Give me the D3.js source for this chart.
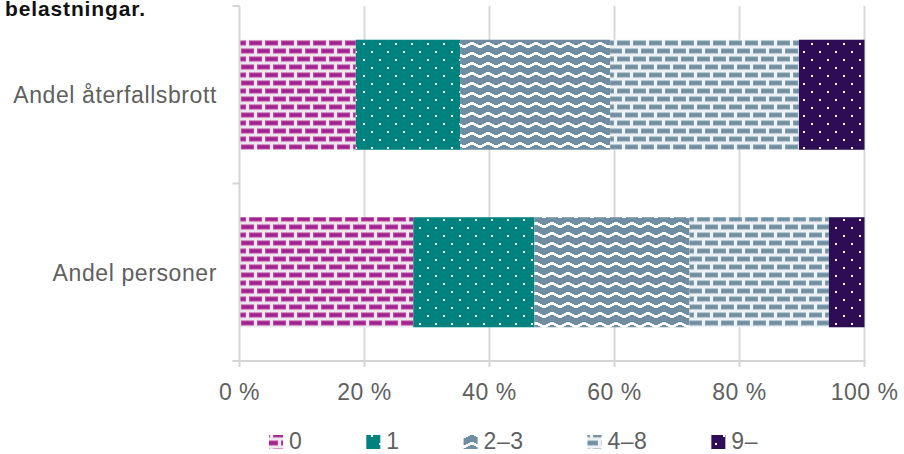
<!DOCTYPE html>
<html><head><meta charset="utf-8">
<script src="https://cdn.jsdelivr.net/npm/d3@7"></script>
<style>
body{margin:0;background:#fff}
svg{display:block}
text{font-family:"Liberation Sans", Arial, Helvetica, sans-serif}
</style>
</head><body>
<svg id="c" width="904" height="454"></svg>
<script>
// ---- data ----
const title = "belastningar.";
const categories = ["Andel återfallsbrott", "Andel personer"];
const seriesNames = ["0", "1", "2–3", "4–8", "9–"];
const s0 = [18.6, 27.8];
const s1 = [16.7, 19.4];
const s2 = [24.0, 24.8];
const s3 = [30.2, 22.3];
const s4 = [10.5, 5.7];
const xTicks = [0, 20, 40, 60, 80, 100];
const tickSuffix = " %";

const seriesValues = [s0, s1, s2, s3, s4];
const rows = categories.map((c, i) => {
  const r = {cat: c};
  seriesNames.forEach((s, j) => r[s] = seriesValues[j][i]);
  return r;
});
const stacked = d3.stack().keys(seriesNames)(rows);

const svg = d3.select("#c");
const x = d3.scaleLinear().domain([0, 100]).range([239.5, 864.5]);
const y = d3.scaleBand().domain(categories).range([6, 361]).paddingInner(0.38).paddingOuter(0.19);

// ---- patterns ----
const defs = svg.append("defs");
function brick(id, bg, fg, edge) {
  const p = defs.append("pattern").attr("id", id).attr("patternUnits", "userSpaceOnUse")
    .attr("width", 16).attr("height", 16).attr("x", 0).attr("y", 0);
  p.append("rect").attr("width", 16).attr("height", 16).attr("fill", bg);
  [[1, 0.5], [9, 8.5], [-7, 8.5]].forEach(([bx, by]) => {
    p.append("rect").attr("x", bx + 0.5).attr("y", by + 0.5).attr("width", 12).attr("height", 4)
      .attr("fill", fg).attr("stroke", edge).attr("stroke-width", 1);
  });
}
function dots(id, bg) {
  const p = defs.append("pattern").attr("id", id).attr("patternUnits", "userSpaceOnUse")
    .attr("width", 16).attr("height", 16).attr("x", 0).attr("y", 0);
  p.append("rect").attr("width", 16).attr("height", 16).attr("fill", bg);
  [[3, 3], [11, 11]].forEach(([dx, dy]) => {
    p.append("rect").attr("x", dx).attr("y", dy).attr("width", 2).attr("height", 2).attr("fill", "#ffffff");
  });
}
function zigzag(id, bg) {
  const p = defs.append("pattern").attr("id", id).attr("patternUnits", "userSpaceOnUse")
    .attr("width", 16).attr("height", 10).attr("x", 0).attr("y", 0);
  p.append("rect").attr("width", 16).attr("height", 10).attr("fill", bg);
  p.append("path").attr("d", "M-4,9 L0,7 L8,3 L16,7 L20,9")
    .attr("fill", "none").attr("stroke", "#ffffff").attr("stroke-width", 2.4)
    .attr("shape-rendering", "crispEdges");
}
brick("p0", "#f1e5ef", "#a3228f", "#b44aa2");
dots("p1", "#00827f");
zigzag("p2", "#6f8ea1");
brick("p3", "#eef1f3", "#6f8ea1", "#87a0b0");
dots("p4", "#2e0d56");
const fills = ["url(#p0)", "url(#p1)", "url(#p2)", "url(#p3)", "url(#p4)"];

// ---- title ----
svg.append("text").attr("x", 5).attr("y", 15.5)
  .attr("font-size", 21).attr("font-weight", "bold").attr("fill", "#111")
  .attr("textLength", 140).attr("lengthAdjust", "spacing")
  .text(title);

// ---- gridlines ----
const [gy0, gy1] = y.range();
svg.append("g").selectAll("line").data(xTicks.filter(t => t > 0)).join("line")
  .attr("x1", d => x(d)).attr("x2", d => x(d))
  .attr("y1", gy0).attr("y2", gy1)
  .attr("stroke", "#d9d9d9").attr("stroke-width", 2);

// ---- bars ----
svg.append("g").selectAll("g").data(stacked).join("g")
  .attr("fill", (d, i) => fills[i])
  .selectAll("rect").data(d => d).join("rect")
  .attr("x", d => x(d[0]))
  .attr("width", d => x(d[1]) - x(d[0]))
  .attr("y", d => y(d.data.cat))
  .attr("height", y.bandwidth());

// ---- axes ----
const axisColor = "#d4d4d4";
const ax = svg.append("g").attr("stroke", axisColor).attr("stroke-width", 2);
ax.append("line").attr("x1", x(0)).attr("x2", x(0)).attr("y1", gy0).attr("y2", gy1);
const bounds = d3.range(categories.length + 1).map(i => gy0 + i * y.step());
ax.selectAll(".yt").data(bounds).join("line").attr("class", "yt")
  .attr("x1", x(0) - 7).attr("x2", x(0)).attr("y1", d => d).attr("y2", d => d);
ax.append("line").attr("x1", x(0) - 7).attr("x2", x(100) + 1).attr("y1", gy1).attr("y2", gy1);
ax.selectAll(".xt").data(xTicks).join("line").attr("class", "xt")
  .attr("x1", d => x(d)).attr("x2", d => x(d)).attr("y1", gy1).attr("y2", gy1 + 6);

// tick labels
svg.append("g").selectAll("text").data(xTicks).join("text")
  .attr("x", d => x(d)).attr("y", 400)
  .attr("text-anchor", "middle").attr("font-size", 23).attr("fill", "#606060")
  .attr("letter-spacing", 0.5)
  .text(d => d + tickSuffix);

// category labels
svg.append("g").selectAll("text").data(categories).join("text")
  .attr("x", 217).attr("y", d => y(d) + y.bandwidth() / 2)
  .attr("dy", "0.36em")
  .attr("text-anchor", "end").attr("font-size", 23).attr("fill", "#606060")
  .attr("letter-spacing", 0.6)
  .text(d => d);

// ---- legend ----
const lg = svg.append("g");
let cx = 269;
seriesNames.forEach((s, i) => {
  lg.append("rect").attr("x", cx).attr("y", 435).attr("width", 14).attr("height", 14).attr("fill", fills[i]);
  const t = lg.append("text").attr("x", cx + 20).attr("y", 449)
    .attr("font-size", 23).attr("fill", "#606060").attr("letter-spacing", 0.5).text(s);
  cx = cx + 20 + t.node().getComputedTextLength() + 64;
});
</script>
</body></html>
